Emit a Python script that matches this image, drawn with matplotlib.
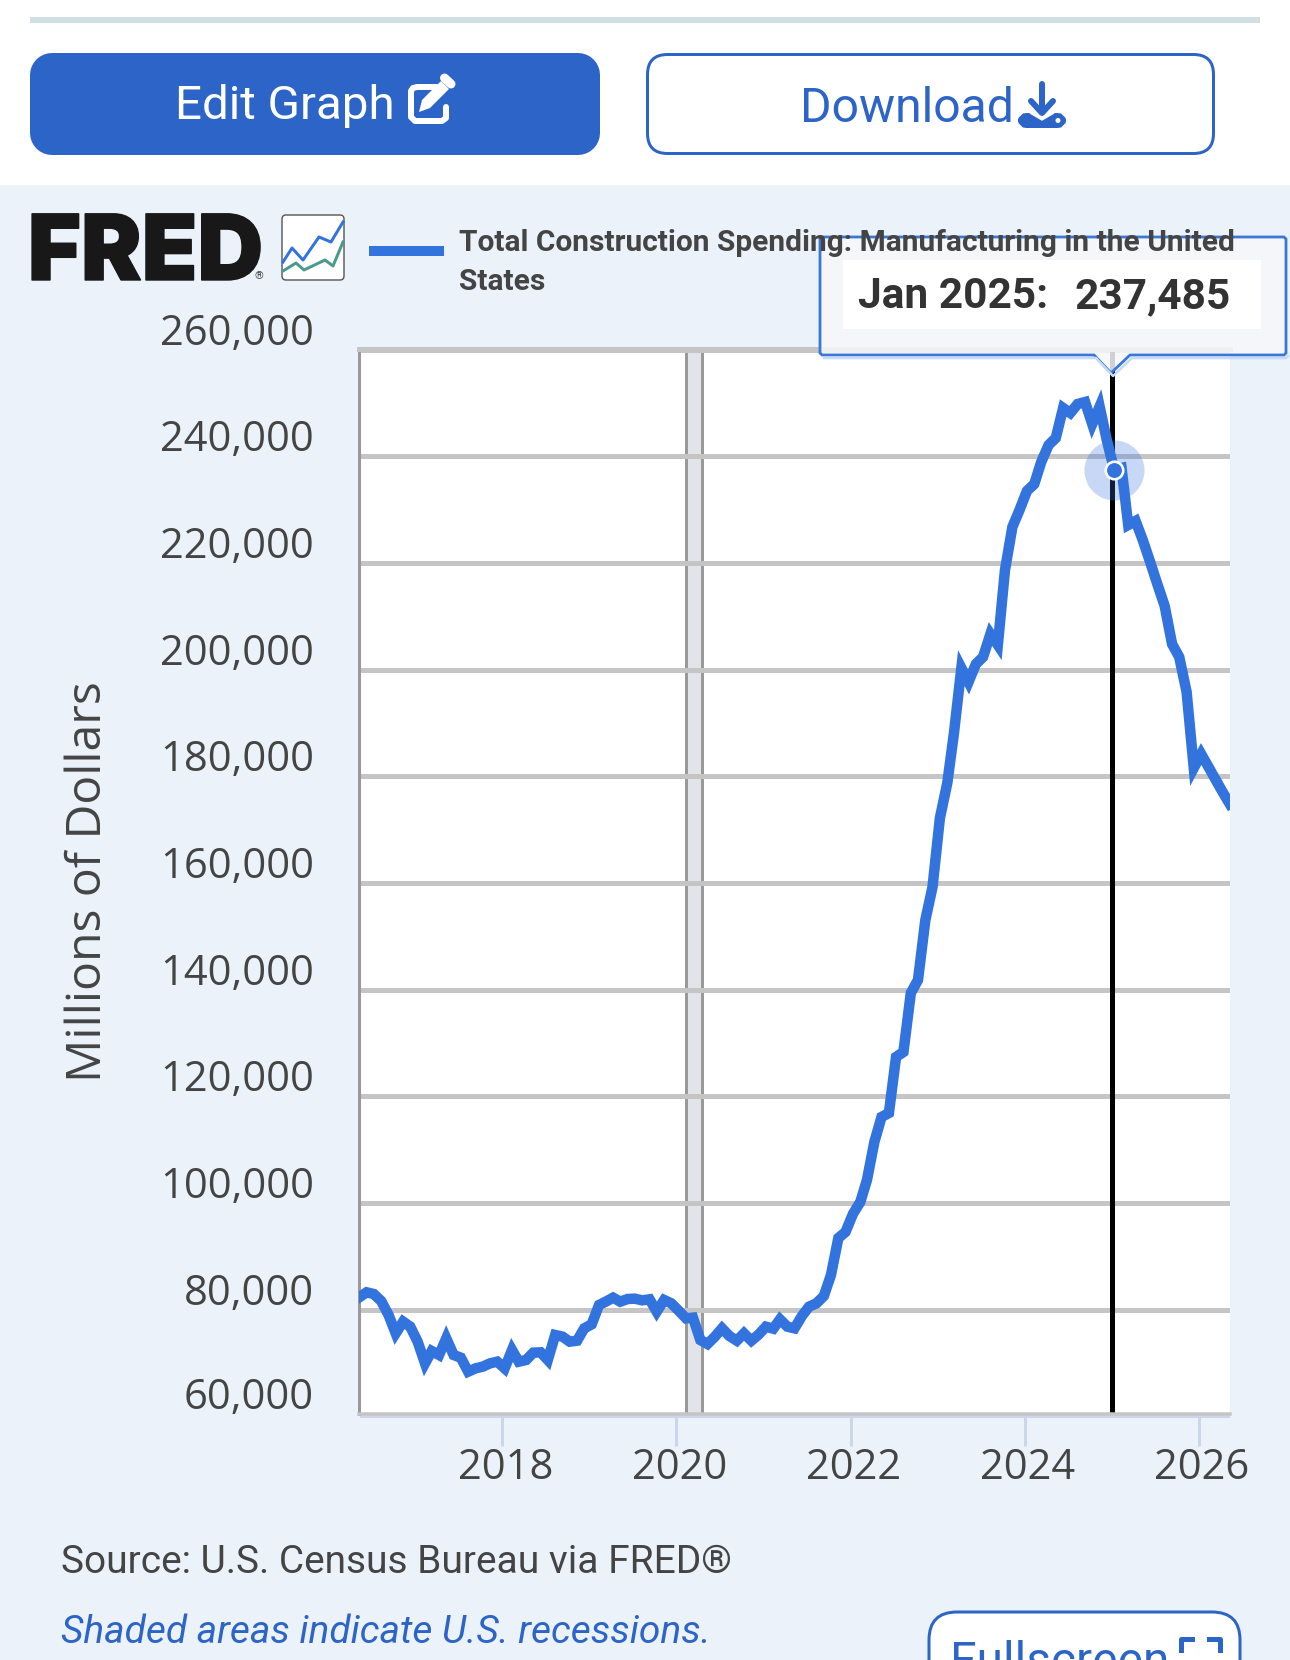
import matplotlib
matplotlib.use("Agg")
import matplotlib.pyplot as plt
import matplotlib.patches as mp
import matplotlib.transforms as mt
import matplotlib.patheffects as pe
import pandas as pd

# ---- data ----
start_month = "2016-05-01"
spending = [
    82281, 83219, 82906, 81594, 78969, 75531, 77719, 76781, 73969, 69906,
    72219, 71469, 74594, 71469, 70969, 68344, 68969, 69281, 69906, 70219,
    68969, 72406, 70219, 70531, 71906, 71969, 70531, 75219, 74906, 73969,
    74156, 76469, 77219, 80844, 81469, 82219, 81469, 81969, 82031, 81719,
    81906, 79594, 81781, 81156, 79781, 78344, 78469, 74281, 73531, 74906,
    76469, 75031, 74156, 75531, 74156, 75281, 76781, 76406, 78156, 76781,
    76469, 78781, 80531, 81156, 82531, 86469, 93406, 94531, 97906, 100156,
    104281, 111406, 116094, 116844, 127344, 128281, 139344, 141781, 153031, 159219,
    172156, 178719, 188094, 200281, 197656, 201031, 202344, 206656, 204594, 218656,
    226719, 229906, 233469, 234781, 238906, 242094, 243406, 249031, 248094, 249781,
    250156, 246031, 249300, 243031, 237485, 237781, 227094, 227844, 224281, 220156,
    216031, 211906, 204781, 202344, 195781, 181531, 184156, 181719, 179469, 177031,
    174781,
]
y_ticks = [80000, 100000, 120000, 140000, 160000, 180000, 200000, 220000, 240000, 260000]
y_tick_labels = ["80,000", "100,000", "120,000", "140,000", "160,000",
                 "180,000", "200,000", "220,000", "240,000", "260,000"]
bottom_label_value = 60000
bottom_label = "60,000"
x_tick_years = [2018, 2020, 2022, 2024, 2026]
recession = ("2020-02-10", "2020-04-17")
hover_date = "2025-01-01"
hover_index = 104
hover_month = "Jan 2025:"
hover_value = "237,485"
series_name = "Total Construction Spending: Manufacturing in the United"
series_name2 = "States"
y_title = "Millions of Dollars"
source_text = "Source: U.S. Census Bureau via FRED\u00ae"
shade_text = "Shaded areas indicate U.S. recessions."

# ---- colours ----
PANEL = "#ebf2fa"
BTN = "#2d64c7"
LINE = "#3373dd"
GRID = "#c5c5c5"
TXT = "#444444"

W, H = 1290, 1660
fig = plt.figure(figsize=(W / 100, H / 100), dpi=100, facecolor="white")


def px_axes(z):
    a = fig.add_axes([0, 0, 1, 1], zorder=z)
    a.set_xlim(0, W)
    a.set_ylim(H, 0)
    a.axis("off")
    a.patch.set_alpha(0)
    return a


def lw(px):
    return px * 0.72


bg = px_axes(0)
bg.add_patch(mp.Rectangle((0, 185), W, H - 185, fc=PANEL, ec="none"))
bg.add_patch(mp.Rectangle((30, 17), 1230, 6, fc="#cfdfe3", ec="none"))

# buttons
bg.add_patch(mp.FancyBboxPatch((52, 75), 526, 58, boxstyle="round,pad=0,rounding_size=0",
                               fc=BTN, ec=BTN, lw=lw(44), joinstyle="round"))
bg.add_patch(mp.FancyBboxPatch((647.5, 54.5), 566, 99, boxstyle="round,pad=0,rounding_size=20",
                               fc="white", ec=BTN, lw=lw(3)))
bg.text(175, 119, "Edit Graph", family="Roboto", fontsize=34.2, color="white", va="baseline")
bg.text(800, 122, "Download", family="Roboto", fontsize=34.7, color=BTN, va="baseline")

# edit icon
bg.plot([437, 417, 413, 411, 411, 415, 419, 442, 446, 446, 446],
        [87, 87, 88, 91, 117, 121, 121, 121, 118, 115, 107],
        color="white", lw=lw(6), solid_capstyle="round", solid_joinstyle="round")
bg.add_patch(mp.Polygon([(419, 112), (422, 100), (441, 81), (449, 89), (430, 108)], fc="white", ec="none"))
bg.plot([444.5, 451], [78, 84], color="white", lw=lw(9), solid_capstyle="round")

# download icon
bg.plot([1042, 1042], [84, 112], color=BTN, lw=lw(6), solid_capstyle="round")
bg.plot([1031, 1042, 1053], [101, 113, 101], color=BTN, lw=lw(6), solid_capstyle="round", solid_joinstyle="round")
bg.add_patch(mp.FancyBboxPatch((1024, 119), 36, 3, boxstyle="round,pad=0,rounding_size=3",
                               fc=BTN, ec=BTN, lw=lw(12)))
bg.add_patch(mp.Polygon([(1030, 113), (1042, 120), (1054, 113)], fc="white", ec="white", lw=1))
bg.add_patch(mp.Circle((1058, 120.5), 2.5, fc="white", ec="none"))

# logo
bg.text(145.5, 280, "FRED", family="Inter", weight="black", fontsize=65.5, color="#181818",
        ha="center", va="baseline",
        path_effects=[pe.withStroke(linewidth=1.0, foreground="#181818")])
bg.text(258.5, 279, "\u00ae", family="Roboto", fontsize=8, color="#444444", ha="center", va="baseline")
bg.add_patch(mp.FancyBboxPatch((282, 215), 62, 65, boxstyle="round,pad=0,rounding_size=4",
                               fc="white", ec="#555555", lw=lw(1.4)))
bg.plot([283, 292, 303, 319, 331, 343], [262, 248, 260, 237, 242, 222], color=LINE, lw=lw(3))
bg.plot([283, 296, 304, 325, 333, 343], [271, 263, 270, 260, 266, 242], color="#4a9a8c", lw=lw(3))

# legend swatch
bg.add_patch(mp.Rectangle((369, 246), 75, 10, fc=LINE, ec="none"))

# lavender axis line under the plot
bg.add_patch(mp.Rectangle((360, 1414), 870, 4, fc="#ccd6eb", ec="none"))

# footer
bg.text(61, 1573, source_text, family="Roboto", fontsize=28, color=TXT, va="baseline")
bg.text(61, 1643, shade_text, family="Roboto", style="italic", fontsize=28, color=BTN, va="baseline")
bg.add_patch(mp.FancyBboxPatch((929, 1612), 311, 100, boxstyle="round,pad=0,rounding_size=28",
                               fc="white", ec=BTN, lw=lw(3)))
bg.text(950, 1676, "Fullscreen", family="Roboto", fontsize=34.5, color=BTN, va="baseline")
bg.plot([1181, 1181, 1192], [1650, 1639, 1639], color=BTN, lw=lw(5))
bg.plot([1209, 1220, 1220], [1639, 1639, 1650], color=BTN, lw=lw(5))

# ---- chart ----
ax = fig.add_axes([359 / W, 1 - 1413.5 / H, (1230 - 359) / W, (1413.5 - 349.5) / H], zorder=1)
months = pd.date_range(start_month, periods=len(spending), freq="MS") + pd.Timedelta(days=10)
ax.set_xlim(pd.Timestamp("2016-05-10"), pd.Timestamp("2026-05-12"))
ax.set_ylim(60500, 260000)
ax.set_facecolor("white")

ax.axvspan(pd.Timestamp(recession[0]), pd.Timestamp(recession[1]), fc="#e1e5ea", ec="none", zorder=0.2)
for d in recession:
    ax.axvline(pd.Timestamp(d), color="#999999", lw=lw(3), zorder=0.3)
ax.set_yticks(y_ticks)
ax.set_yticklabels(y_tick_labels, family="Open Sans", fontsize=30, color=TXT)
ax.set_xticks([pd.Timestamp(f"{y}-01-01") for y in x_tick_years])
ax.set_xticklabels([str(y) for y in x_tick_years], family="Open Sans", fontsize=30, color=TXT)
ax.grid(axis="y", color=GRID, lw=lw(5))
ax.set_axisbelow(True)
ax.tick_params(axis="y", length=0, pad=45 * 0.72)
ax.tick_params(axis="x", length=32 * 0.72, width=lw(3), color="#ccd6eb", pad=1)
up = mt.ScaledTranslation(0, 0.21, fig.dpi_scale_trans)
for t in ax.get_yticklabels():
    t.set_transform(t.get_transform() + up)
right = mt.ScaledTranslation(0.03, 0, fig.dpi_scale_trans)
for t in ax.get_xticklabels():
    t.set_transform(t.get_transform() + right)
ax.annotate(bottom_label, xy=(0, bottom_label_value), xycoords=ax.get_yaxis_transform(),
            xytext=(-45, 18), textcoords="offset pixels", ha="right", va="center",
            family="Open Sans", fontsize=30, color=TXT, annotation_clip=False)
for s in ("top", "bottom"):
    ax.spines[s].set_color(GRID)
    ax.spines[s].set_linewidth(lw(5) if s == "top" else lw(3.5))
ax.spines["right"].set_visible(False)
ax.spines["left"].set_color("#999999")
ax.spines["left"].set_linewidth(lw(3))

hover_t = pd.Timestamp(hover_date)
ax.axvline(hover_t, color="black", lw=lw(5), zorder=2.5)
ax.plot(months, spending, color=LINE, lw=lw(10.5), solid_joinstyle="miter", zorder=3)
ax.plot(months[hover_index], spending[hover_index], "o", ms=60 * 0.72, mfc=LINE, mec="none", alpha=0.28, zorder=4)
ax.plot(months[hover_index], spending[hover_index], "o", ms=17.5 * 0.72, mfc=LINE, mec="white", mew=lw(2.6), zorder=5)
fig.text(88 / W, 1 - 882 / H, y_title, rotation=90, family="Open Sans", fontsize=34.7,
         color=TXT, ha="center", va="center", zorder=2)

# ---- tooltip ----
top = px_axes(3)
tip = [(822, 237), (1284, 237), (1286, 239), (1286, 353), (1284, 355), (1130, 355), (1111, 373),
       (1094, 355), (822, 355), (820, 353), (820, 239)]
shadow = [(x + 2, y + 3) for x, y in tip[3:9]]
top.plot(*zip(*shadow), color="#c5daf5", lw=lw(2.5))
top.add_patch(mp.Polygon(tip, closed=True, fc=(0.965, 0.968, 0.975, 0.85), ec="none"))
top.add_patch(mp.Polygon(tip, closed=True, fc="none", ec="#3a78d8", lw=lw(2.8), joinstyle="miter"))
top.add_patch(mp.Rectangle((843, 260), 418, 69, fc="white", ec="none"))
top.text(858, 308, hover_month, family="Roboto", weight="bold", fontsize=30.5, color="#333333", va="baseline")
top.text(1074, 308, hover_value, family="Roboto", weight="bold", fontsize=30.5, color="#333333", va="baseline")
# legend text sits above the tooltip
top.text(459, 251, series_name, family="Roboto", weight="bold", fontsize=21.5, color=TXT, va="baseline", zorder=10)
top.text(459, 290, series_name2, family="Roboto", weight="bold", fontsize=21.5, color=TXT, va="baseline", zorder=10)

fig.savefig("out.png", dpi=100)
